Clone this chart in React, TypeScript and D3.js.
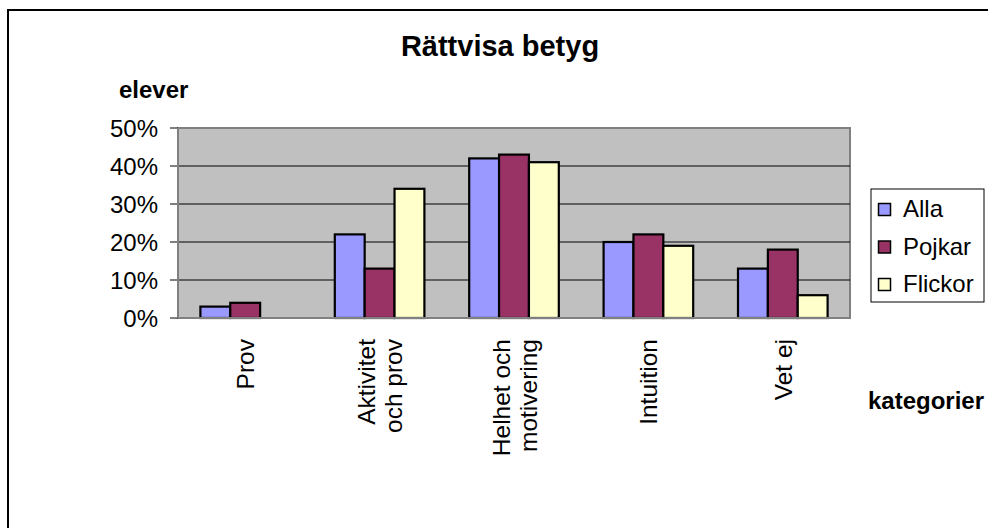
import React from "react";
import * as d3 from "d3";

const categories: string[][] = [
  ["Prov"],
  ["Aktivitet", "och prov"],
  ["Helhet och", "motivering"],
  ["Intuition"],
  ["Vet ej"],
];
const seriesNames = ["Alla", "Pojkar", "Flickor"];
const seriesColors = ["#9999FF", "#993366", "#FFFFCC"];
const alla = [3, 22, 42, 20, 13];
const pojkar = [4, 13, 43, 22, 18];
const flickor = [0, 34, 41, 19, 6];
const yTicks = [0, 10, 20, 30, 40, 50];

const W = 988;
const H = 528;
const FONT = "Arial, 'Liberation Sans', Helvetica, sans-serif";

export default function App() {
  const left = 178, right = 850, top = 128, bottom = 318;
  const series = [alla, pojkar, flickor];
  const x = d3.scaleBand<number>().domain(d3.range(categories.length)).range([left, right]).padding(0);
  const xs = d3.scaleBand<number>().domain(d3.range(3)).range([0, x.bandwidth()]).paddingInner(0).paddingOuter(0.75);
  const y = d3.scaleLinear().domain([0, 50]).range([bottom, top]);

  return (
    <svg width={W} height={H} style={{ position: "fixed", left: 0, top: 0, background: "#fff" }} fontFamily={FONT}>
      <rect x={8} y={10} width={1100} height={700} fill="#fff" stroke="#000" strokeWidth={2} />
      <text x={500} y={56} textAnchor="middle" fontWeight="bold" fontSize={29}>Rättvisa betyg</text>
      <text x={119} y={98} fontWeight="bold" fontSize={24}>elever</text>
      <text x={868} y={409} fontWeight="bold" fontSize={24}>kategorier</text>

      {/* plot area */}
      <rect x={left} y={top} width={right - left} height={bottom - top} fill="#C0C0C0" stroke="#808080" strokeWidth={2} />
      {yTicks.filter(t => t > 0 && t < 50).map(t => (
        <line key={t} x1={left} x2={right} y1={y(t)} y2={y(t)} stroke="#000" strokeWidth={1} />
      ))}
      {/* y axis ticks & labels */}
      {yTicks.map(t => (
        <g key={"yt" + t}>
          <line x1={170} x2={left} y1={y(t)} y2={y(t)} stroke="#000" strokeWidth={1} />
          <text x={158} y={y(t) + 8.5} textAnchor="end" fontSize={24}>{t}%</text>
        </g>
      ))}
      <line x1={left} x2={left} y1={top} y2={bottom} stroke="#808080" strokeWidth={2} />

      {/* bars */}
      {categories.map((c, i) => (
        <g key={"c" + i}>
          {series.map((s, j) => {
            const bx = (x(i) as number) + (xs(j) as number);
            const h = bottom - y(s[i]);
            if (s[i] <= 0) return null;
            return (
              <rect key={j} x={bx} y={y(s[i])} width={xs.bandwidth()} height={h}
                fill={seriesColors[j]} stroke="#000" strokeWidth={2.2} />
            );
          })}
        </g>
      ))}
      <line x1={left} x2={right} y1={bottom} y2={bottom} stroke="#808080" strokeWidth={2} />

      {/* x labels */}
      {categories.map((lines, i) => {
        const cx = (x(i) as number) + x.bandwidth() / 2;
        const lh = 27;
        return lines.map((ln, k) => {
          const base = cx + 9 - ((lines.length - 1) * lh) / 2 + k * lh;
          return (
            <text key={i + "-" + k} transform={`translate(${base},339) rotate(-90)`} textAnchor="end" fontSize={24.5}>{ln}</text>
          );
        });
      })}

      {/* legend */}
      <rect x={871} y={189} width={113} height={113} fill="#fff" stroke="#000" strokeWidth={1} />
      {seriesNames.map((n, j) => (
        <g key={n}>
          <rect x={878.5} y={203.5 + j * 37.5} width={12} height={12} fill={seriesColors[j]} stroke="#000" strokeWidth={1.5} />
          <text x={903} y={217 + j * 37.5} fontSize={24}>{n}</text>
        </g>
      ))}
    </svg>
  );
}
